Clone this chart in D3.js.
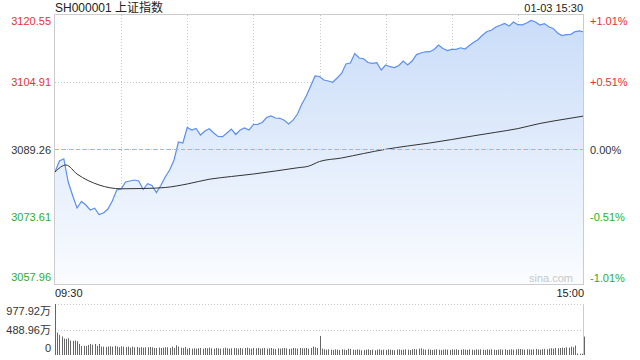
<!DOCTYPE html>
<html>
<head>
<meta charset="utf-8">
<script src="https://cdn.jsdelivr.net/npm/d3@7"></script>
<style>
  body { margin: 0; background: #fff; }
  svg { display: block; font-family: "Liberation Sans", Arial, sans-serif; }
  .lbl { font-size: 11px; }
</style>
</head>
<body>
<svg id="chart" width="640" height="360"></svg>
<script>
// chart texts
const title = "SH000001 上证指数";
const stamp = "01-03 15:30";
const preClose = 3089.26;

// axis ticks
const priceTicks = [3120.55, 3104.91, 3089.26, 3073.61, 3057.96];
const pctTicks = ["+1.01%", "+0.51%", "0.00%", "-0.51%", "-1.01%"];
const volTicks = [977.92, 488.96, 0];
const volTickLabels = ["977.92万", "488.96万", "0"];
const timeLabels = ["09:30", "15:00"];

// price, every 2 trading minutes (0 = 09:30, 120 = 11:30/13:00, 240 = 15:00)
const priceMinutes = d3.range(0, 241, 2);
const prices = [
  3084.02, 3086.60, 3087.10, 3081.69, 3078.55, 3075.64, 3077.16, 3076.34, 3075.18, 3075.60,
  3074.13, 3074.48, 3075.41, 3077.27, 3079.83, 3080.06, 3081.69, 3081.93, 3082.16, 3081.93,
  3079.95, 3081.30, 3080.88, 3079.25, 3080.88, 3082.86, 3084.49, 3086.81, 3091.00, 3090.77,
  3094.37, 3093.79, 3094.14, 3092.63, 3093.56, 3094.07, 3093.09, 3092.28, 3092.23, 3093.09,
  3094.02, 3092.75, 3093.79, 3094.26, 3093.79, 3095.07, 3095.10, 3095.54, 3096.70, 3097.05,
  3096.58, 3096.51, 3096.05, 3095.19, 3096.07, 3097.52, 3099.84, 3101.70, 3104.03, 3106.36,
  3106.24, 3105.43, 3105.19, 3104.89, 3105.89, 3106.94, 3109.15, 3109.38, 3111.59, 3110.54,
  3110.38, 3109.50, 3109.31, 3109.45, 3107.75, 3108.92, 3108.52, 3108.33, 3108.80, 3109.85,
  3108.92, 3109.85, 3111.34, 3111.71, 3111.99, 3112.01, 3112.52, 3113.57, 3112.76, 3112.29,
  3112.55, 3112.57, 3112.92, 3112.64, 3113.45, 3114.22, 3114.85, 3115.90, 3116.71, 3117.01,
  3117.76, 3118.15, 3118.57, 3117.97, 3118.92, 3118.29, 3118.27, 3118.69, 3119.29, 3118.92,
  3118.22, 3118.55, 3117.81, 3117.43, 3116.36, 3115.78, 3115.99, 3116.06, 3116.69, 3116.87,
  3116.59
];

// average price line
const avgMinutes = [0, 5, 10, 20, 30, 40, 50, 60, 70, 80, 90, 100, 110, 115, 120,
  130, 140, 150, 160, 170, 180, 190, 200, 210, 220, 230, 240];
const avgPrices = [3084.02, 3085.65, 3083.55, 3081.00, 3080.11, 3080.18, 3080.41, 3081.23,
  3082.34, 3082.97, 3083.55, 3084.25, 3085.00, 3085.37, 3086.46, 3087.28, 3088.32, 3089.30,
  3090.07, 3090.77, 3091.58, 3092.44, 3093.26, 3094.12, 3095.31, 3096.21, 3097.05];

// volume per minute, 万
const volumes = [
  977.92, 431, 386, 354, 315, 309, 322, 277, 270, 277, 264, 212, 174, 174, 174, 193, 212, 199, 212, 174,
  212, 161, 161, 154, 161, 167, 161, 174, 161, 148, 167, 161, 154, 161, 141, 161, 148, 154, 141, 148,
  141, 148, 148, 154, 148, 135, 135, 141, 135, 141, 148, 148, 135, 161, 135, 186, 161, 141, 135, 154,
  122, 135, 122, 129, 122, 129, 135, 122, 135, 129, 141, 129, 122, 135, 129, 122, 129, 141, 129, 122,
  129, 135, 129, 122, 135, 122, 135, 141, 129, 122, 135, 129, 135, 122, 129, 135, 122, 129, 135, 122,
  116, 129, 122, 129, 135, 129, 116, 122, 135, 129, 122, 135, 129, 129, 135, 122, 135, 161, 148, 135,
  366,
  122, 109, 103, 109, 103, 96, 109, 103, 96, 109, 103, 96, 122, 116,
  103, 96, 109, 103, 90, 96, 103, 109, 96, 103, 90, 103, 109, 96, 103, 96, 109, 103, 96, 90,
  103, 109, 96, 103, 109, 103, 96, 109,
  116, 109, 122, 129,
  109, 103, 109, 103, 96, 103, 109, 103, 96, 103, 109, 103, 96, 109, 103, 109, 96, 103, 109, 103,
  96, 109, 103, 96, 109, 103, 109, 103, 96, 109, 103, 109, 103, 96, 103, 109, 103, 109, 96, 103,
  109, 103, 109, 116, 116,
  109, 103, 109, 109, 103, 109, 116, 109, 103, 109, 116, 109, 122,
  129, 122, 135, 129, 135, 141, 135, 148, 141, 161, 148, 180,
  30, 25, 25, 354
];

const red = "#e8312f", green = "#2aae2a", dark = "#333";
const svg = d3.select("#chart");

const x = d3.scaleLinear().domain([0, 240]).range([55, 584]);
const y = d3.scaleLinear().domain([3057.96, 3120.55]).range([284, 15]);
const yv = d3.scaleLinear().domain([0, 977.92]).range([355, 304]);

// gradient for the area
const grad = svg.append("defs").append("linearGradient")
  .attr("id", "fillGrad")
  .attr("gradientUnits", "userSpaceOnUse")
  .attr("x1", 0).attr("y1", 15).attr("x2", 0).attr("y2", 284);
grad.append("stop").attr("offset", 0).attr("stop-color", "#c9dcf8");
grad.append("stop").attr("offset", 1).attr("stop-color", "#fafcff");

svg.select("defs").append("clipPath").attr("id", "plotClip")
  .append("rect").attr("x", 54.5).attr("y", 14.5).attr("width", 529).attr("height", 270);

// grid
const grid = svg.append("g");
grid.selectAll(".vg")
  .data(d3.range(30, 240, 30))
  .enter().append("line")
  .attr("x1", d => Math.round(x(d)) + 0.5).attr("x2", d => Math.round(x(d)) + 0.5)
  .attr("y1", 15).attr("y2", 284)
  .attr("stroke", "#c8c8c8").attr("stroke-dasharray", "1,2");
grid.selectAll(".hg")
  .data([priceTicks[1], priceTicks[3]])
  .enter().append("line")
  .attr("x1", 55).attr("x2", 583)
  .attr("y1", d => Math.round(y(d)) + 0.5).attr("y2", d => Math.round(y(d)) + 0.5)
  .attr("stroke", "#c8c8c8").attr("stroke-dasharray", "1,2");

// area + price line
const pts = priceMinutes.map((m, i) => [m, prices[i]]);
const plot = svg.append("g").attr("clip-path", "url(#plotClip)");
plot.append("path")
  .datum(pts)
  .attr("fill", "url(#fillGrad)")
  .attr("d", d3.area().x(d => x(d[0])).y0(284).y1(d => y(d[1])));

// previous close line
svg.append("line")
  .attr("x1", 55).attr("x2", 583)
  .attr("y1", Math.round(y(preClose)) + 0.5).attr("y2", Math.round(y(preClose)) + 0.5)
  .attr("stroke", "#c8c8c8").attr("stroke-dasharray", "1,2");
svg.append("line")
  .attr("x1", 55).attr("x2", 583)
  .attr("y1", Math.round(y(preClose)) + 0.5).attr("y2", Math.round(y(preClose)) + 0.5)
  .attr("stroke", "#f2a272").attr("stroke-dasharray", "4,3");

plot.append("path")
  .datum(pts)
  .attr("fill", "none")
  .attr("stroke", "#5a8ff0")
  .attr("stroke-width", 1.2)
  .attr("d", d3.line().x(d => x(d[0])).y(d => y(d[1])));

plot.append("path")
  .datum(avgMinutes.map((m, i) => [m, avgPrices[i]]))
  .attr("fill", "none")
  .attr("stroke", "#333")
  .attr("stroke-width", 1)
  .attr("d", d3.line().curve(d3.curveMonotoneX).x(d => x(d[0])).y(d => y(d[1])));

// border
svg.append("rect")
  .attr("x", 54.5).attr("y", 14.5).attr("width", 529).attr("height", 270)
  .attr("fill", "none").attr("stroke", "#ccc");

// left price axis
const tickColor = (d, i) => i < 2 ? red : (i === 2 ? dark : green);
const leftAxis = svg.append("g")
  .attr("transform", "translate(54,0)")
  .call(d3.axisLeft(y).tickValues(priceTicks).tickSize(0).tickPadding(3).tickFormat(d3.format(".2f")));
leftAxis.select(".domain").remove();
leftAxis.selectAll("text")
  .attr("class", "lbl")
  .attr("font-family", null).attr("font-size", null)
  .attr("fill", tickColor)
  .attr("dy", (d, i) => i === 0 ? "0.85em" : (i === 4 ? "-0.3em" : "0.32em"));

// right percent axis
const rightAxis = svg.append("g")
  .attr("transform", "translate(584,0)")
  .call(d3.axisRight(y).tickValues(priceTicks).tickSize(0).tickPadding(6).tickFormat((d, i) => pctTicks[i]));
rightAxis.select(".domain").remove();
rightAxis.selectAll("text")
  .attr("class", "lbl")
  .attr("font-family", null).attr("font-size", null)
  .attr("fill", tickColor)
  .attr("dy", (d, i) => i === 0 ? "0.85em" : (i === 4 ? "-0.25em" : "0.32em"));

// titles
svg.append("text").attr("x", 55).attr("y", 12).style("font-size", "12px").attr("fill", "#222")
  .style("font-family", "'Liberation Sans', 'Noto Sans CJK SC', sans-serif").text(title);
svg.append("text").attr("x", 583).attr("y", 12).attr("text-anchor", "end").attr("class", "lbl")
  .attr("fill", "#222").text(stamp);

// watermark
svg.append("text").attr("x", 573).attr("y", 282).attr("text-anchor", "end")
  .style("font-size", "11px").attr("fill", "#c8c8c8").text("sina.com");

// time labels
svg.append("text").attr("x", 55).attr("y", 297).attr("class", "lbl").attr("fill", "#222").text(timeLabels[0]);
svg.append("text").attr("x", 584).attr("y", 297).attr("text-anchor", "end").attr("class", "lbl")
  .attr("fill", "#222").text(timeLabels[1]);

// volume panel
const vol = svg.append("g");
vol.selectAll(".vl")
  .data(volTicks.slice(0, 2))
  .enter().append("line")
  .attr("x1", 55).attr("x2", 584)
  .attr("y1", d => Math.round(yv(d)) + 0.5).attr("y2", d => Math.round(yv(d)) + 0.5)
  .attr("stroke", "#c8c8c8").attr("stroke-dasharray", "1,2");
vol.append("line")
  .attr("x1", 583.5).attr("x2", 583.5).attr("y1", 304).attr("y2", 355)
  .attr("stroke", "#ccc");
vol.selectAll(".bar")
  .data(volumes)
  .enter().append("rect")
  .attr("x", (d, i) => Math.round(x(i)))
  .attr("width", 1)
  .attr("y", d => yv(d))
  .attr("height", d => yv(0) - yv(d))
  .attr("fill", "#666");

const volAxis = svg.append("g")
  .attr("transform", "translate(54,0)")
  .call(d3.axisLeft(yv).tickValues(volTicks).tickSize(0).tickPadding(3).tickFormat((d, i) => volTickLabels[i]));
volAxis.select(".domain").remove();
volAxis.selectAll("text")
  .attr("class", "lbl")
  .attr("font-family", null).attr("font-size", null)
  .attr("fill", dark)
  .style("font-family", "'Liberation Sans', 'Noto Sans CJK SC', sans-serif")
  .attr("dy", (d, i) => i === 0 ? "0.95em" : (i === 2 ? "-0.3em" : "0.32em"));
</script>
</body>
</html>
